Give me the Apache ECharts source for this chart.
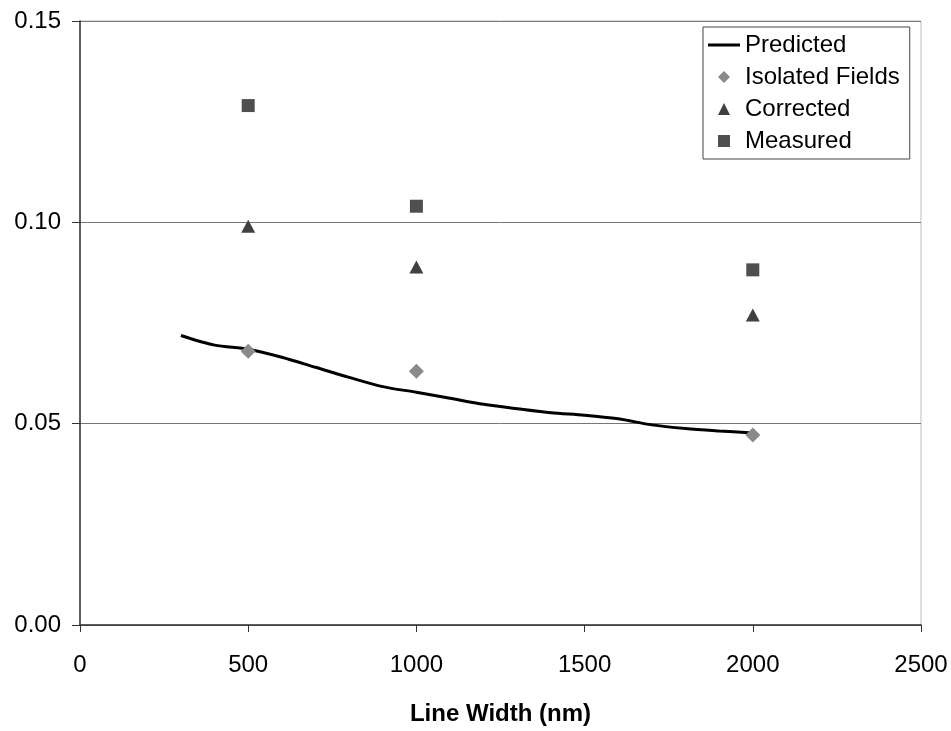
<!DOCTYPE html>
<html>
<head>
<meta charset="utf-8">
<script src="https://cdn.jsdelivr.net/npm/echarts@6/dist/echarts.min.js"></script>
<style>
  html, body { margin: 0; padding: 0; background: #fff; }
  #chart { width: 951px; height: 731px; }
</style>
</head>
<body>
<div id="chart"></div>
<script>
// predicted curve, every 100 nm
const predictedX = [300, 400, 500, 600, 700, 800, 900, 1000, 1100, 1200, 1300, 1400, 1500, 1600, 1700, 1800, 1900, 2000];
const predictedY = [0.0719, 0.0695, 0.0685, 0.0665, 0.0640, 0.0615, 0.0592, 0.0578, 0.0563, 0.0548, 0.0537, 0.0527, 0.0521, 0.0512, 0.0497, 0.0488, 0.0482, 0.0477];

// the three measured line widths
const widths = [500, 1000, 2000];
const isolated = [0.068, 0.063, 0.0472];
const corrected = [0.099, 0.0889, 0.077];
const measured = [0.129, 0.104, 0.0882];

const xTicks = [0, 500, 1000, 1500, 2000, 2500];
const yTicks = [0.00, 0.05, 0.10, 0.15];

function pairs(xs, ys) {
    return xs.map((x, i) => [x, ys[i]]);
}

const FONT = 'Arial, "Liberation Sans", sans-serif';

let chart = echarts.init(document.getElementById('chart'));
chart.setOption({
    animation: false,
    backgroundColor: '#fff',
    textStyle: { fontFamily: FONT },
    grid: {
        left: 80, right: 30, top: 21, bottom: 96,
        show: true, borderColor: '#bdbdbd', borderWidth: 1
    },
    legend: {
        orient: 'vertical',
        left: 703, top: 27,
        padding: [6, 10, 6, 5],
        itemGap: 8,
        itemWidth: 32, itemHeight: 12,
        borderColor: '#444', borderWidth: 1,
        backgroundColor: '#fff',
        textStyle: { fontSize: 24, color: '#000', fontFamily: FONT },
        data: [
            { name: 'Predicted', icon: 'path://M0,0H32V3H0Z', itemStyle: { color: '#000' } },
            { name: 'Isolated Fields', icon: 'path://M0,-1L1,0L0,1L-1,0Z' },
            { name: 'Corrected', icon: 'path://M0,-1L1,1L-1,1Z' },
            { name: 'Measured', icon: 'path://M-1,-1H1V1H-1Z' }
        ]
    },
    xAxis: {
        type: 'value',
        min: xTicks[0], max: xTicks[xTicks.length - 1], interval: 500,
        name: 'Line Width (nm)',
        nameLocation: 'middle', nameGap: 77,
        nameTextStyle: { fontSize: 24, fontWeight: 'bold', color: '#000', fontFamily: FONT },
        axisLine: { lineStyle: { color: '#333', width: 1.5 } },
        axisTick: { show: true, length: 7, lineStyle: { color: '#333' } },
        axisLabel: { fontSize: 24, color: '#000', margin: 28, fontFamily: FONT, formatter: v => String(v) },
        splitLine: { show: false }
    },
    yAxis: {
        type: 'value',
        min: yTicks[0], max: yTicks[yTicks.length - 1], interval: 0.05,
        axisLine: { show: true, lineStyle: { color: '#333', width: 1.5 } },
        axisTick: { show: true, length: 8, lineStyle: { color: '#333' } },
        axisLabel: {
            fontSize: 24, color: '#000', margin: 19, fontFamily: FONT,
            formatter: v => v.toFixed(2)
        },
        splitLine: { show: true, lineStyle: { color: '#777', width: 1 } }
    },
    series: [
        {
            name: 'Predicted',
            type: 'line',
            data: pairs(predictedX, predictedY),
            symbol: 'none',
            smooth: 0.3,
            lineStyle: { color: '#000', width: 3 },
            itemStyle: { color: '#000' },
            z: 3
        },
        {
            name: 'Isolated Fields',
            type: 'scatter',
            data: pairs(widths, isolated),
            symbol: 'diamond',
            symbolSize: 15,
            itemStyle: { color: '#8a8a8a', opacity: 1 },
            z: 4
        },
        {
            name: 'Corrected',
            type: 'scatter',
            data: pairs(widths, corrected),
            symbol: 'triangle',
            symbolSize: [14, 13],
            itemStyle: { color: '#404040', opacity: 1 },
            z: 4
        },
        {
            name: 'Measured',
            type: 'scatter',
            data: pairs(widths, measured),
            symbol: 'rect',
            symbolSize: 13,
            itemStyle: { color: '#4f4f4f', opacity: 1 },
            z: 4
        }
    ]
});
</script>
</body>
</html>
